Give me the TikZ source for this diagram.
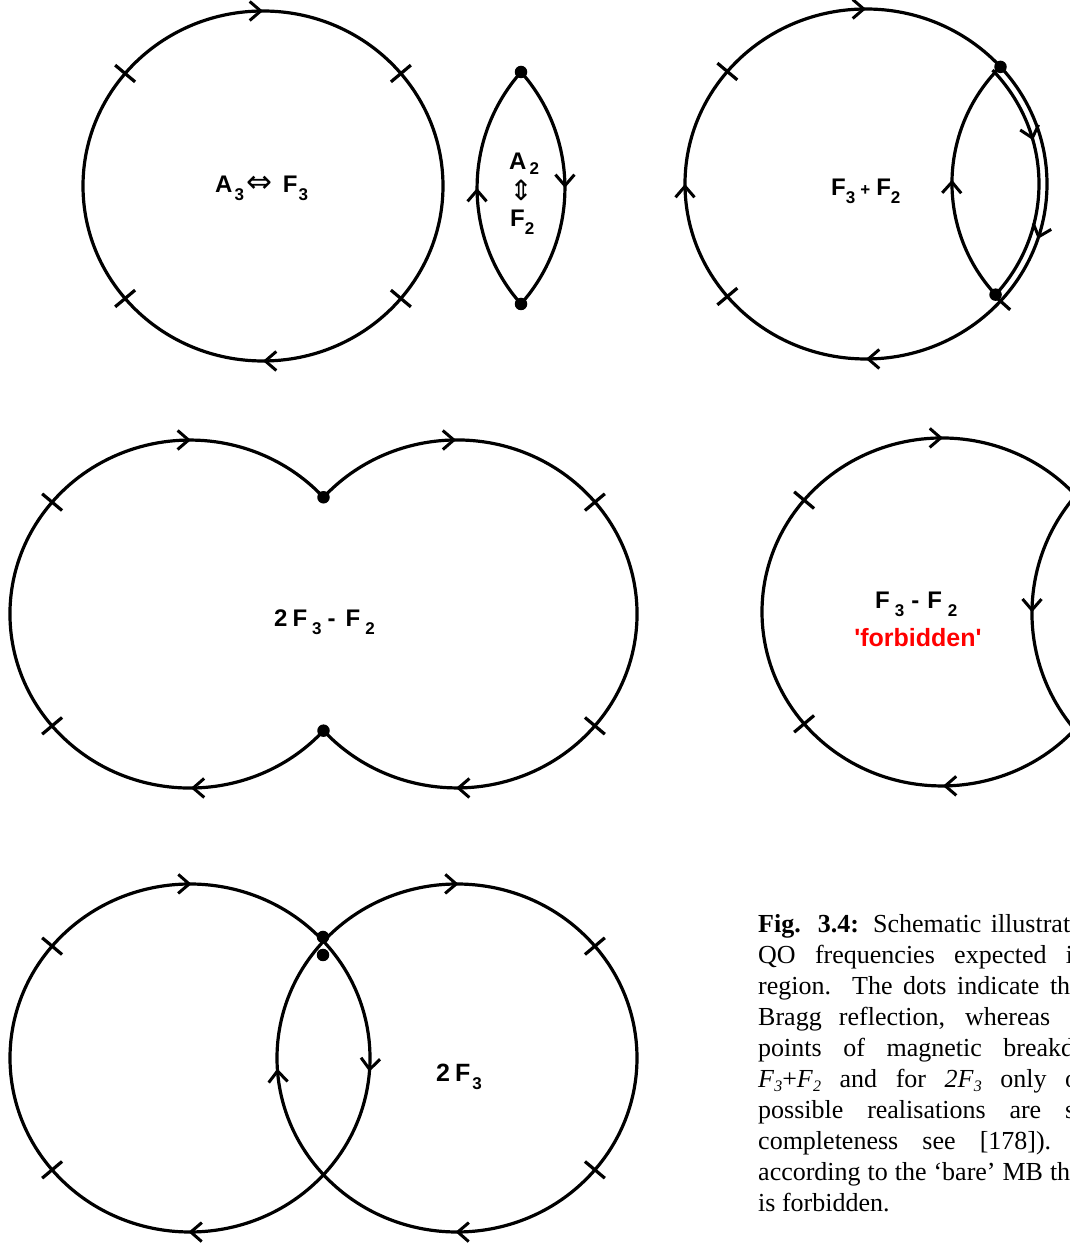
\documentclass[tikz,border=0pt]{standalone}
\usepackage{fontspec}
\setmainfont{Liberation Serif}
\newfontfamily\lsans{Liberation Sans}
\newfontfamily\dvs{DejaVu Sans}
\font\fbdfont="Liberation Sans/B" at 25pt
\usetikzlibrary{arrows.meta,decorations.markings}
\newcommand\lbf{\lsans\bfseries\fontsize{24}{24}\selectfont}
\newcommand\capf{\fontsize{26}{31}\selectfont}
\newcommand\sbx[1]{\raisebox{-8pt}{\fontsize{17}{17}\selectfont #1}}
\newcommand\isub[1]{\raisebox{-4pt}{\fontsize{16}{16}\selectfont\itshape #1}}
\newcommand\qtick[4]{%
  \pgfmathsetmacro\qtkA{#2-13}\pgfmathsetmacro\qtkB{#3-13}%
  \pgfmathsetmacro\qtkC{#2+13}\pgfmathsetmacro\qtkD{#3+13}%
  \draw[tk] ([shift={(#4:\qtkA pt and \qtkB pt)}]#1) -- ([shift={(#4:\qtkC pt and \qtkD pt)}]#1);}
\tikzset{
  chev/.tip={Straight Barb[length=11pt,width=19pt,line width=3pt]},
  orb/.style={line width=3.2pt},
  tk/.style={line width=3.2pt},
  am/.style={postaction={decorate,decoration={markings,mark=at position #1 with {\arrow[line width=3pt]{chev}}}}},
  dot/.style={circle,fill=black,inner sep=0pt,minimum size=12.5pt},
  lab/.style={anchor=base west,inner sep=0pt,font=\lbf},
  captext/.style={anchor=base west,inner sep=0pt,font=\capf},
}
\begin{document}
\begin{tikzpicture}[x=1pt,y=1pt]
\useasboundingbox (0,0) rectangle (1070,1251);
\clip (0,0) rectangle (1070,1251);

% ---------- A3 <=> F3
\coordinate (cA) at (263,1065);
\draw[orb, am=0.25, am=0.75] ([shift={(180:180pt and 175pt)}]cA) arc[start angle=180,end angle=-180,x radius=180pt,y radius=175pt];
\foreach \t in {40,140,220,320} {\qtick{cA}{180}{175}{\t}}
\node[lab] (tA) at (215,1058) {A\hspace{2pt}\sbx{3}\hspace{3pt}{\dvs\mdseries\fontsize{31}{31}\selectfont ⇔}\hspace{10pt}F\hspace{1pt}\sbx{3}};

% ---------- A2 <=> F2 lens
\node[dot] (Btop) at (521,1179) {};
\node[dot] (Bbot) at (521,947) {};
\draw[orb, am=0.5] (Bbot.center) arc[start angle=221.5,end angle=138.5,radius=175pt];
\draw[orb, am=0.5] (Btop.center) arc[start angle=41.5,end angle=-41.5,radius=175pt];
\node[lab] (tB1) at (509,1081) {A\hspace{3pt}\raisebox{-5pt}{\fontsize{17}{17}\selectfont 2}};
\node[inner sep=0pt] (tB2) at (521,1061) {\dvs\fontsize{28}{28}\selectfont ⇕};
\node[lab] (tB3) at (510,1024) {F\sbx{2}};

% ---------- F3 + F2
\coordinate (cC) at (866,1067);
\draw[orb, am=0.05, am=0.25, am=0.5, am=0.75] ([shift={(0:181pt and 175pt)}]cC) arc[start angle=0,end angle=-360,x radius=181pt,y radius=175pt];
\node[dot] (Ctop) at ([shift={(42:181pt and 175pt)}]cC) {};
\draw[orb, am=0.33] ([shift={(43:173pt and 167pt)}]cC) arc[start angle=43,end angle=-41.5,x radius=173pt,y radius=167pt] coordinate (Cb);
\node[dot] (Cbot) at (Cb) {};
\draw[orb, am=0.5] (Cbot.center) arc[start angle=222.75,end angle=134.8,radius=164.1pt];
\foreach \t in {140,220,-42} {\qtick{cC}{181}{175}{\t}}
\node[lab] (tC) at (831,1055) {F\sbx{3}\hspace{5pt}{\fontsize{17}{17}\selectfont +}\hspace{6pt}F\sbx{2}};

% ---------- 2F3 - F2
\coordinate (cDl) at (190,637);
\coordinate (cDr) at (457,637);
\node[dot] (Dtop) at (323.5,753.7) {};
\node[dot] (Dbot) at (323.5,520.3) {};
\draw[orb, am=0.1737, am=0.8263] (Dtop.center) arc[start angle=137.9,end angle=-137.9,x radius=180pt,y radius=174pt];
\draw[orb, am=0.1737, am=0.8263] (Dbot.center) arc[start angle=-42.1,end angle=-317.9,x radius=180pt,y radius=174pt];
\foreach \t in {140,220} {\qtick{cDl}{180}{174}{\t}}
\foreach \t in {40,-40} {\qtick{cDr}{180}{174}{\t}}
\node[lab] (tD) at (274,624) {2\hspace{5pt}F\hspace{5pt}\sbx{3}\hspace{6pt}-\hspace{10pt}F\hspace{5pt}\sbx{2}};

% ---------- F3 - F2 forbidden
\coordinate (cE) at (942,639);
\coordinate (Etop) at (1075.7,755.5);
\coordinate (Ebot) at (1074.8,521.6);
\draw[orb, am=0.5] (Etop) arc[start angle=139.2,end angle=220.3,radius=180pt];
\draw[orb, am=0.1726, am=0.826] (Ebot) arc[start angle=-42.45,end angle=-317.95,x radius=180pt,y radius=174pt];
\foreach \t in {140,220} {\qtick{cE}{180}{174}{\t}}
\node[lab] (tE) at (875,642) {F\hspace{5pt}\sbx{3}\hspace{7pt}-\hspace{8pt}F\hspace{6pt}\sbx{2}};
\node[anchor=base,inner sep=0pt,text=red] (tE2) at (918,604) {\fbdfont 'forbidden'};

% ---------- 2F3
\coordinate (cFl) at (190,193);
\coordinate (cFr) at (457,193);
\draw[orb, am=0.136, am=0.375, am=0.875] ([shift={(45:180pt and 174pt)}]cFl) arc[start angle=45,end angle=-315,x radius=180pt,y radius=174pt];
\draw[orb, am=0.375, am=0.614, am=0.875] ([shift={(45:180pt and 174pt)}]cFr) arc[start angle=45,end angle=-315,x radius=180pt,y radius=174pt];
\node[dot] (Fd1) at (323,314) {};
\node[dot] (Fd2) at (323,296) {};
\foreach \t in {140,220} {\qtick{cFl}{180}{174}{\t}}
\foreach \t in {40,-40} {\qtick{cFr}{180}{174}{\t}}
\node[lab,font=\lsans\bfseries\fontsize{25}{25}\selectfont] (tF) at (436,169) {2\hspace{5pt}F\hspace{2pt}\sbx{3}};

% ---------- caption
\node[captext] (L1) at (758,318) {\makebox[312pt][s]{\textbf{Fig. 3.4:} Schematic illustrat}};
\node[captext] (L2) at (758,287) {\makebox[315pt][s]{QO frequencies expected i}};
\node[captext] (L3) at (758,256) {\makebox[312pt][s]{region. The dots indicate th}};
\node[captext] (L4) at (758,225) {\makebox[292pt][s]{Bragg reflection, whereas}};
\node[captext] (L5) at (758,194) {\makebox[316pt][s]{points of magnetic breakd}};
\node[captext] (L6) at (758,163) {\makebox[320pt][s]{\textit{F}\isub{3}+\textit{F}\isub{2} and for \textit{2F}\isub{3} only o}};
\node[captext] (L7) at (758,132) {\makebox[317pt][s]{possible realisations are s}};
\node[captext] (L8) at (758,101) {\makebox[293pt][s]{completeness see [178]).}};
\node[captext] (L9) at (758,70) {\makebox[312pt][s]{according to the ‘bare’ MB th}};
\node[captext] (L10) at (758,39) {is forbidden.};
\end{tikzpicture}
\end{document}
